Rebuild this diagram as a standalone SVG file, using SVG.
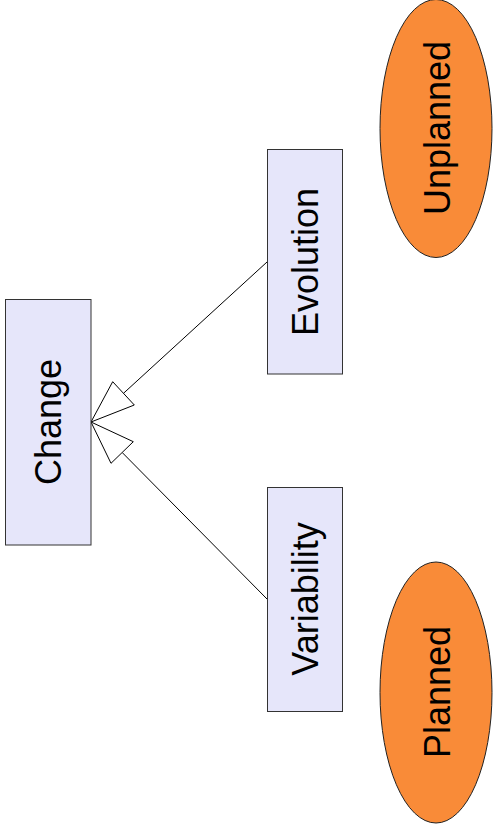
<svg xmlns="http://www.w3.org/2000/svg" width="493" height="834" viewBox="0 0 493 834">
  <defs>
    <style>
      .cls { fill: #e6e6fa; stroke: #333333; stroke-width: 1; }
      .state { fill: #f98b38; stroke: #222222; stroke-width: 1; }
      .lbl { font-family: "Liberation Sans", Arial, sans-serif; font-size: 36px; fill: #000000; text-anchor: middle; }
      .edge { fill: none; stroke: #000000; stroke-width: 1; }
      .head { fill: #ffffff; stroke: #000000; stroke-width: 1; stroke-linejoin: miter; }
    </style>
  </defs>
  <rect width="493" height="834" fill="#ffffff"/>

  <!-- Connectors: generalisation arrows into Change -->
  <g id="connectors">
    <line class="edge" x1="267" y1="262" x2="123.5" y2="393.3"/>
    <polygon class="head" points="91,422 112.7,381.7 134.3,405"/>
    <line class="edge" x1="267" y1="599" x2="122.2" y2="452.5"/>
    <polygon class="head" points="91,422 133.3,441.7 111,463.3"/>
  </g>

  <g id="change">
    <rect class="cls" x="5.5" y="299.5" width="85.5" height="245.5"/>
    <text class="lbl" transform="translate(61,422) rotate(-90)">Change</text>
  </g>

  <g id="evolution">
    <rect class="cls" x="267.5" y="149.5" width="75" height="224.5"/>
    <text class="lbl" transform="translate(318,262) rotate(-90)">Evolution</text>
  </g>

  <g id="variability">
    <rect class="cls" x="267.5" y="487.5" width="75" height="224"/>
    <text class="lbl" transform="translate(318,599) rotate(-90)">Variability</text>
  </g>

  <g id="unplanned">
    <ellipse class="state" cx="436" cy="128.5" rx="56" ry="129"/>
    <text class="lbl" transform="translate(450,128) rotate(-90)">Unplanned</text>
  </g>

  <g id="planned">
    <ellipse class="state" cx="436" cy="692.5" rx="56" ry="130.5"/>
    <text class="lbl" transform="translate(450,692) rotate(-90)">Planned</text>
  </g>
</svg>
